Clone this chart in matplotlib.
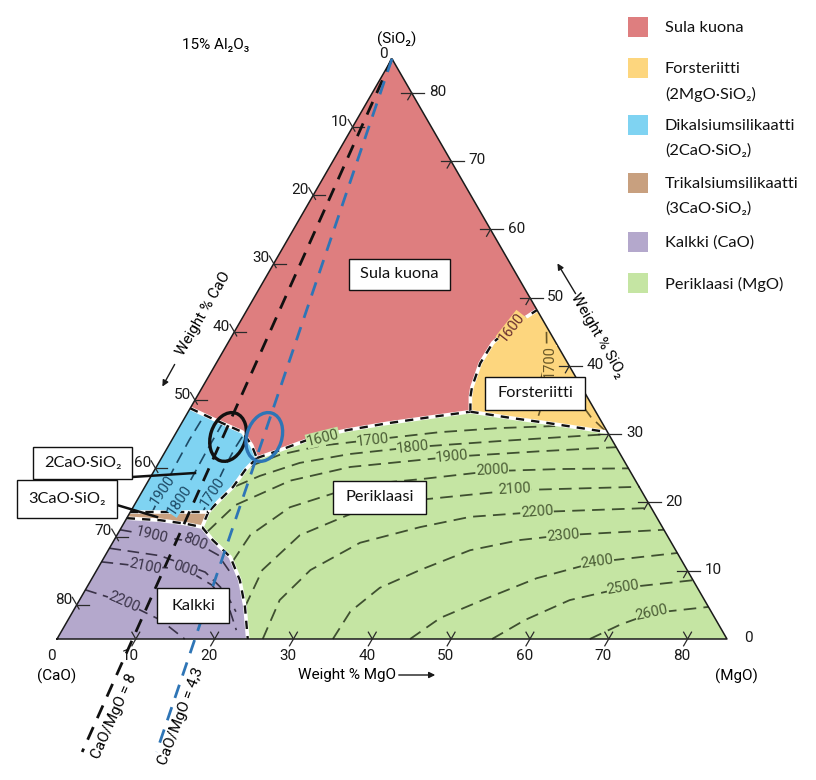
import numpy as np
import matplotlib
matplotlib.use("Agg")
import matplotlib.pyplot as plt
from matplotlib.patches import Ellipse, Rectangle

NARROW = ["Roboto", "DejaVu Sans"]
SANS = ["Lato", "DejaVu Sans"]

TOTAL = 85            # CaO + MgO + SiO2, the other 15 % is Al2O3
H = np.sqrt(3) / 2

# phase field boundaries, every point is (MgO, SiO2) in wt-%
red_blue = [(0, 33.8), (4.0, 32.1), (8.4, 30.3), (10.5, 28.4), (12.1, 26.5)]
red_green = [(12.1, 26.5), (14.5, 27.7), (17.8, 29.5), (21.5, 30.6), (26.1, 31.6),
             (31.1, 32.5), (35.8, 33.3)]
red_forst = [(35.8, 33.3), (34.7, 35.5), (34.2, 36.9), (33.5, 40.4), (33.6, 43.4),
             (34.7, 45.6), (36.8, 48.2)]
forst_green = [(35.8, 33.3), (41.3, 32.4), (46.7, 31.6), (54.7, 30.3)]
blue_green = [(12.1, 26.5), (11.5, 24.8), (11.2, 22.3), (10.3, 19.9), (9.9, 18.6)]
brown_green = [(9.9, 18.6), (10.2, 16.4)]
lime_green = [(10.2, 16.4), (12.5, 14.5), (16.0, 12.0), (18.9, 8.6), (21.5, 4.7), (24.2, 0)]
blue_brown = [(0, 18.6), (9.9, 18.6)]
brown_lime = [(0, 17.7), (4.4, 17.4), (7.8, 16.9), (10.2, 16.4)]

# isotherms (deg C), points (MgO, SiO2)
iso_periclase = {
    1700: [(11.8, 25.3), (14.8, 27.0), (19.2, 28.3), (25.5, 29.2), (33.4, 30.3), (40.7, 30.9), (47.6, 31.2)],
    1800: [(11.5, 22.4), (13.8, 23.9), (17.9, 25.8), (23.6, 27.1), (31.1, 28.1), (41.7, 29.0), (54.8, 30.0)],
    1900: [(11.2, 15.7), (12.8, 19.6), (18.0, 23.2), (24.6, 25.2), (36.8, 26.7), (47.5, 27.5), (56.9, 28.1)],
    2000: [(16.6, 11.3), (16.9, 15.2), (19.9, 19.3), (27.2, 22.6), (34.3, 23.4), (42.9, 24.6), (51.4, 24.9), (60.0, 25.0)],
    2100: [(21.5, 4.7), (21.0, 10.1), (23.2, 15.2), (29.0, 18.9), (35.9, 20.4), (47.2, 21.8), (62.8, 22.3)],
    2200: [(26.1, 0), (25.4, 5.7), (27.1, 10.1), (31.4, 14.1), (37.9, 16.4), (43.5, 17.9), (51.6, 18.6), (65.8, 19.2)],
    2300: [(35.0, 0), (35.2, 4.0), (37.2, 7.5), (41.0, 10.1), (45.9, 13.0), (51.5, 14.5), (56.6, 15.2), (69.0, 16.0)],
    2400: [(44.8, 0), (47.1, 3.1), (51.6, 6.0), (56.4, 8.9), (62.9, 11.3), (72.4, 12.6)],
    2500: [(55.2, 0), (58.0, 2.8), (62.2, 5.7), (68.1, 7.5), (76.3, 8.6)],
    2600: [(67.6, 0), (70.4, 2.1), (73.6, 3.8), (80.3, 4.7)],
}
# label spot (MgO, SiO2) and text angle
iso_periclase_lab = {
    1700: (25.5, 29.15, 6), 1800: (31.1, 28.1, 6), 1900: (36.8, 26.7, 5),
    2000: (42.8, 24.8, 3), 2100: (47.1, 22.0, 3), 2200: (51.6, 18.6, 4),
    2300: (56.6, 15.2, 5), 2400: (62.9, 11.3, 8), 2500: (68.1, 7.5, 9),
    2600: (73.6, 3.8, 12),
}

iso_c2s = {
    1700: [(9.2, 18.6), (9.0, 21.5), (8.7, 25.0), (8.6, 28.0), (8.7, 29.9)],
    1800: [(5.4, 18.6), (5.4, 20.4), (5.3, 24.0), (5.2, 27.7), (5.2, 31.5)],
    1900: [(2.8, 18.6), (2.5, 21.8), (2.3, 25.5), (2.2, 29.2), (2.3, 32.6)],
}
iso_c2s_lab = {1700: (9.0, 21.5, 56), 1800: (5.4, 20.4, 56), 1900: (2.5, 21.8, 56)}

iso_lime = [
    [(0, 16.0), (4.4, 15.2), (10.4, 14.2), (14.3, 12.3), (17.5, 9.4)],
    [(0, 13.3), (7.0, 12.2), (13.9, 9.8), (17.9, 6.9), (20.7, 4.0)],
    [(0, 11.3), (5.9, 10.6), (11.1, 10.3), (15.7, 7.9), (19.2, 5.0), (22.1, 1.3)],
    [(0, 7.2), (5.8, 5.4), (11.7, 2.8), (16.2, 0)],
]
iso_lime_lab = [("1900", 4.4, 15.2, -14), ("800", 10.4, 14.2, -22),
                ("2100", 5.9, 10.6, -12), ("000", 11.1, 10.3, -18),
                ("2200", 5.8, 5.4, -24)]

iso_forst = [
    [(39.6, 45.0), (41.5, 41.3), (42.4, 37.9), (44.6, 33.3), (44.9, 31.9)],
    [(47.5, 36.0), (51.5, 32.5), (54.3, 30.5)],
]

# CaO/MgO constant ratio lines, where they meet the CaO-MgO side
ratio_names = ["CaO/MgO = 8", "CaO/MgO = 4,3"]
ratio_mgo = [9.6, 17.5]

ticks = [10, 20, 30, 40, 50, 60, 70, 80]

legend_names = ["Sula kuona", "Forsteriitti\n(2MgO·SiO₂)", "Dikalsiumsilikaatti\n(2CaO·SiO₂)",
                "Trikalsiumsilikaatti\n(3CaO·SiO₂)", "Kalkki (CaO)", "Periklaasi (MgO)"]

C_MELT, C_FORST, C_C2S = "#de7e7f", "#fdd67e", "#7fd3f2"
C_C3S, C_LIME, C_MGO = "#c8a07f", "#b4a8cc", "#c5e5a3"
legend_colors = [C_MELT, C_FORST, C_C2S, C_C3S, C_LIME, C_MGO]

# picture scale: pixels per wt-% and CaO corner position
PX, X0, Y0 = 7.882, 57, 639


def cart(points):
    p = np.asarray(points, dtype=float)
    return p[:, 0] + p[:, 1] / 2, p[:, 1] * H


def cpt(m, s):
    x, y = cart([(m, s)])
    return np.array([x[0], y[0]])


def at(xp, yp):
    # layout helper for annotation placement (pixel -> axes data)
    return (xp - X0) / PX, (Y0 - yp) / PX


fig = plt.figure(figsize=(8.16, 7.8), dpi=100)
ax = fig.add_axes([0, 0, 1, 1])
ax.set_xlim(at(0, 0)[0], at(816, 0)[0])
ax.set_ylim(at(0, 780)[1], at(0, 0)[1])
ax.axis("off")

# phase fields
fields = [
    ([(0, TOTAL)] + red_blue + red_green[1:] + red_forst[1:], C_MELT),
    (red_forst + forst_green[::-1], C_FORST),
    (red_green + forst_green[1:] + [(TOTAL, 0)] + lime_green[::-1]
     + brown_green[::-1][1:] + blue_green[::-1][1:], C_MGO),
    (red_blue + blue_green[1:] + blue_brown[::-1], C_C2S),
    (blue_brown + brown_green[1:] + brown_lime[::-1][1:], C_C3S),
    (brown_lime + lime_green[1:] + [(0, 0)], C_LIME),
]
for pts, col in fields:
    x, y = cart(pts)
    ax.fill(x, y, color=col, lw=0, zorder=1)


def iso_text(m, s, txt, rot, bg, col):
    x, y = cpt(m, s)
    ax.text(x, y, txt, rotation=rot, rotation_mode="anchor", ha="center", va="center",
            fontsize=10.5, color=col, family=NARROW, zorder=4,
            bbox=dict(facecolor=bg, edgecolor="none", pad=0.3))


dash = (0, (7, 4))
for t, pts in iso_periclase.items():
    x, y = cart(pts)
    ax.plot(x, y, ls=dash, lw=1.3, color="#3f5030", zorder=2)
    m, s, r = iso_periclase_lab[t]
    iso_text(m, s, str(t), r, C_MGO, "#4a5c35")

for t, pts in iso_c2s.items():
    x, y = cart(pts)
    ax.plot(x, y, ls=dash, lw=1.2, color="#1d4a66", zorder=2)
    m, s, r = iso_c2s_lab[t]
    iso_text(m, s, str(t), r, C_C2S, "#1d4a66")

for pts in iso_lime:
    x, y = cart(pts)
    ax.plot(x, y, ls=dash, lw=1.2, color="#3a3348", zorder=2)
for txt, m, s, r in iso_lime_lab:
    iso_text(m, s, txt, r, C_LIME, "#3a3348")

for pts in iso_forst:
    x, y = cart(pts)
    ax.plot(x, y, ls=dash, lw=1.2, color="#6a5828", zorder=2)
iso_text(42.2, 40.6, "1700", 90, C_FORST, "#6a5828")
iso_text(34.9, 45.6, "1600", 52, C_FORST, "#6a3030")
iso_text(19.0, 29.45, "1600", 14, C_MGO, "#4a5c35")

# phase boundaries: white line with black dashes
for pts in [red_blue, red_green, red_forst, forst_green, blue_green, brown_green,
            lime_green, blue_brown, brown_lime]:
    x, y = cart(pts)
    ax.plot(x, y, color="white", lw=2.6, zorder=3, solid_capstyle="butt")
    ax.plot(x, y, color="#111111", lw=1.7, ls=(0, (3.5, 3)), zorder=3)

# triangle frame
x, y = cart([(0, 0), (TOTAL, 0), (0, TOTAL), (0, 0)])
ax.plot(x, y, color="#1a1a1a", lw=1.1, zorder=3)

# ticks and labels
u60 = np.array([0.5, H])
u120 = np.array([-0.5, H])
tk = dict(color="#2a2a2a", lw=0.9, zorder=3)
num = dict(fontsize=11, family=NARROW, color="#1a1a1a")
for v in [0] + ticks:
    # MgO along the bottom
    p = cpt(v, 0)
    if v:
        a, b = p - 1.0 * u60, p + 1.0 * u60
        ax.plot([a[0], b[0]], [a[1], b[1]], **tk)
        c = p + 1.0 * u120
        ax.plot([p[0], c[0]], [p[1], c[1]], **tk)
    ax.text(p[0] - 0.7, p[1] - 1.3, str(v), ha="center", va="top", **num)
    # SiO2 along the right side
    p = cpt(TOTAL - v, v)
    if v:
        ax.plot([p[0] - 1.3, p[0] + 1.6], [p[1], p[1]], **tk)
        c = p - 1.0 * u60
        ax.plot([p[0], c[0]], [p[1], c[1]], **tk)
    ax.text(p[0] + 2.2, p[1] + 0.1, str(v), ha="left", va="center", **num)
    # CaO along the left side
    p = cpt(0, TOTAL - v)
    if v:
        a, b = p + 1.1 * u120, p - 0.6 * u120
        ax.plot([a[0], b[0]], [a[1], b[1]], **tk)
        ax.plot([p[0], p[0] + 1.5], [p[1], p[1]], **tk)
    q = p + 1.1 * u120
    ax.text(q[0], q[1] - 0.3, str(v), ha="right", va="center", **num)

ax.text(*at(57, 676), "(CaO)", ha="center", va="center", fontsize=11, family=NARROW)
ax.text(*at(736, 676), "(MgO)", ha="center", va="center", fontsize=11, family=NARROW)
ax.text(*at(397, 39), "(SiO₂)", ha="center", va="center", fontsize=11, family=NARROW)
ax.text(*at(216, 45), "15% Al₂O₃", ha="center", va="center", fontsize=11, family=NARROW)

ax.text(*at(347, 675), "Weight % MgO", ha="center", va="center", fontsize=11, family=NARROW)
ax.annotate("", xy=at(438, 675), xytext=at(396, 675),
            arrowprops=dict(arrowstyle="-|>", color="#1a1a1a", lw=1, mutation_scale=9))
ax.text(*at(204, 314), "Weight % CaO", ha="center", va="center", rotation=60,
        fontsize=11, family=NARROW)
ax.annotate("", xy=at(161, 389), xytext=at(176, 362),
            arrowprops=dict(arrowstyle="-|>", color="#1a1a1a", lw=1, mutation_scale=9))
ax.text(*at(598, 335), "Weight % SiO₂", ha="center", va="center", rotation=-60,
        fontsize=11, family=NARROW)
ax.annotate("", xy=at(556, 261), xytext=at(577, 296),
            arrowprops=dict(arrowstyle="-|>", color="#1a1a1a", lw=1, mutation_scale=9))

# constant CaO/MgO lines from the SiO2 corner
apex = cpt(0, TOTAL)
y_end = at(0, 752)[1]
for m, col, name, lp, rot in zip(ratio_mgo, ["#111111", "#2e75b6"], ratio_names,
                                 [(114, 716), (181, 716)], [66, 69]):
    foot = cpt(m, 0)
    t = (apex[1] - y_end) / apex[1]
    end = apex + t * (foot - apex)
    ax.plot([apex[0], end[0]], [apex[1], end[1]], color=col, lw=2.0,
            ls=(0, (5, 3.5)), zorder=5)
    ax.text(*at(*lp), name, rotation=rot, ha="center", va="center",
            rotation_mode="anchor", fontsize=11, family=NARROW, zorder=5)

# marked spots
for (m, s), col in zip([(6.9, 29.6), (11.5, 29.6)], ["#111111", "#2e75b6"]):
    c = cpt(m, s)
    ax.add_patch(Ellipse(c, 35 / PX, 50 / PX, angle=-18, fill=False,
                         edgecolor=col, lw=2.4, zorder=6))

# name boxes
boxes = [("Sula kuona", 349, 259, 450, 290), ("Forsteriitti", 485, 377, 585, 410),
         ("Periklaasi", 333, 481, 426, 514), ("Kalkki", 157, 588, 229, 623),
         ("2CaO·SiO₂", 33, 447, 132, 479), ("3CaO·SiO₂", 17, 480, 117, 518)]
ax.plot(*zip(at(132, 477), at(195, 473)), color="#111111", lw=1.8, zorder=7)
ax.plot(*zip(at(117, 505), at(157, 517)), color="#111111", lw=1.8, zorder=7)
for txt, x0, y0, x1, y1 in boxes:
    ax.add_patch(Rectangle(at(x0, y1), (x1 - x0) / PX, (y1 - y0) / PX,
                           facecolor="white", edgecolor="#111111", lw=1.0, zorder=8))
    ax.text(*at((x0 + x1) / 2, (y0 + y1) / 2), txt, ha="center", va="center",
            fontsize=11.8, family=SANS, color="#111111", zorder=9)

# legend
leg_y = [27, 68, 125, 183, 242, 283]
for name, col, yy in zip(legend_names, legend_colors, leg_y):
    ax.add_patch(Rectangle(at(628, yy + 10), 20 / PX, 20 / PX, facecolor=col,
                           edgecolor="none", zorder=8))
    for i, line in enumerate(name.split("\n")):
        ax.text(*at(665, yy + 1 + 25 * i), line, ha="left", va="center",
                fontsize=11.8, family=SANS, color="#111111")

fig.savefig("out.png", dpi=100)
